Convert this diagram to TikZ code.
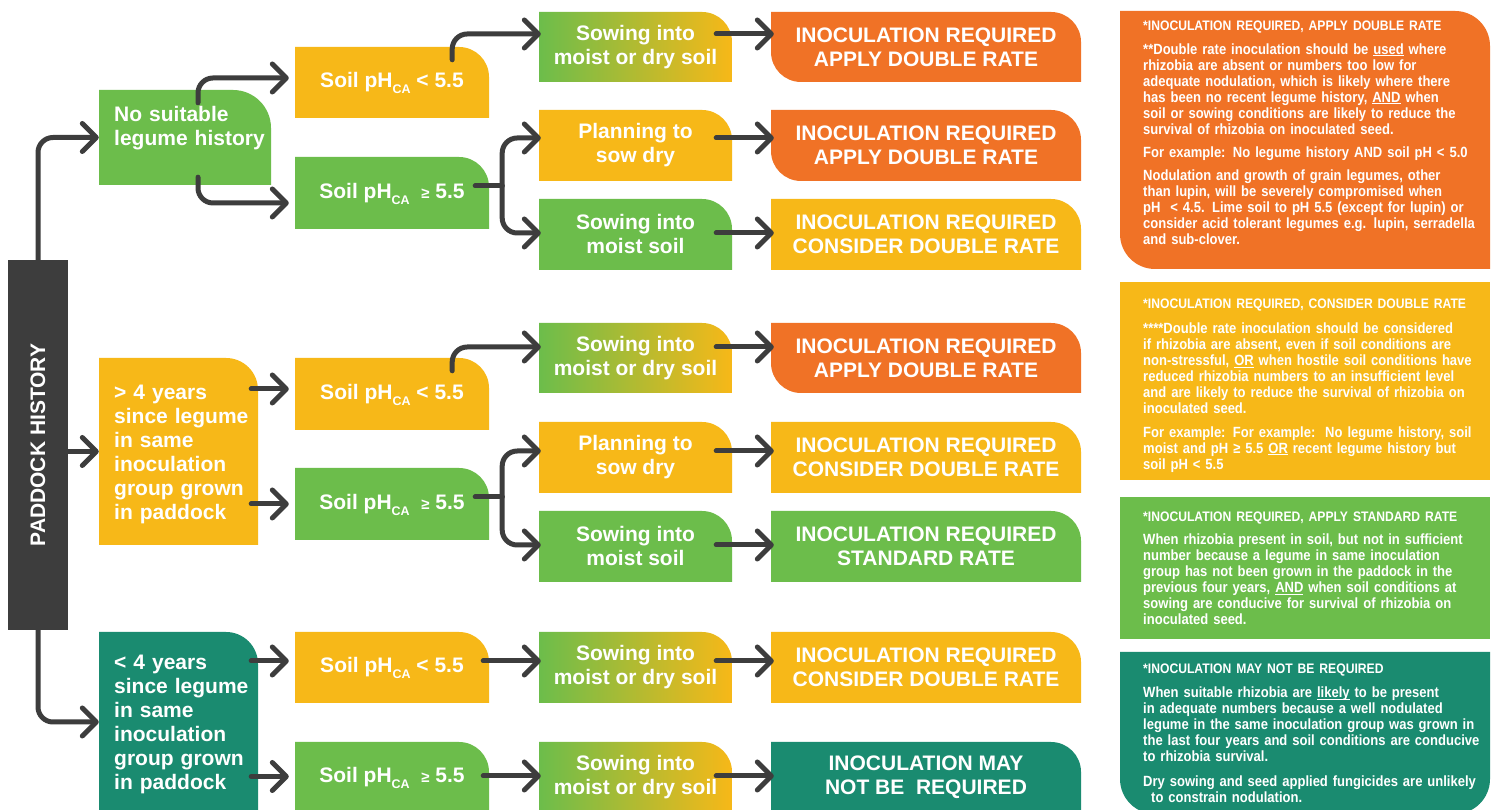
\documentclass[tikz,border=0pt]{standalone}
\usepackage{fontspec}
\usepackage{graphicx}
\setmainfont{Liberation Sans}
\newfontfamily\panelfont{Liberation Sans}[FakeStretch=0.88]
\usetikzlibrary{arrows.meta,calc}
\definecolor{cgreen}{HTML}{6CBD4B}
\definecolor{cyellow}{HTML}{F7B818}
\definecolor{corange}{HTML}{F07226}
\definecolor{cteal}{HTML}{1A8B70}
\definecolor{cdark}{HTML}{3D3D3D}
\newcommand{\phca}{pH\raisebox{-6pt}[0pt][0pt]{\fontsize{12.5}{12.5}\selectfont CA}}
\newcommand{\gesym}{{\fontsize{15}{15}\selectfont ≥}}
\newcommand{\ulx}[1]{\setbox0\hbox{#1}\rlap{\rule[-1.8pt]{\wd0}{1pt}}\box0\relax}
\tikzset{
  trbox/.style 2 args={path picture={\fill[#1]
     (path picture bounding box.south west) -- (path picture bounding box.north west)
     -- ([xshift=-#2]path picture bounding box.north east) arc[start angle=90,end angle=0,radius=#2]
     -- (path picture bounding box.south east) -- cycle;}},
  trblbox/.style 2 args={path picture={\fill[#1]
     (path picture bounding box.north west)
     -- ([xshift=-#2]path picture bounding box.north east) arc[start angle=90,end angle=0,radius=#2]
     -- (path picture bounding box.south east)
     -- ([xshift=#2]path picture bounding box.south west) arc[start angle=270,end angle=180,radius=#2]
     -- cycle;}},
  botbox/.style 2 args={path picture={\fill[#1]
     (path picture bounding box.north west) -- (path picture bounding box.north east)
     -- ([yshift=#2]path picture bounding box.south east) arc[start angle=0,end angle=-90,radius=#2]
     -- ([xshift=#2]path picture bounding box.south west) arc[start angle=270,end angle=180,radius=#2]
     -- cycle;}},
  gradbox/.style={path picture={\shade[left color=cgreen,right color=cyellow]
     (path picture bounding box.south west) -- (path picture bounding box.north west)
     -- ([xshift=-30pt]path picture bounding box.north east) arc[start angle=90,end angle=0,radius=30pt]
     -- (path picture bounding box.south east) -- cycle;}},
  tb/.style={rectangle, inner sep=0pt, text=white, align=center,
     font=\fontsize{21}{24}\selectfont\bfseries},
  lt/.style={inner sep=0pt, text=white, align=left, text width=160pt,
     font=\fontsize{21}{24}\selectfont\bfseries},
  pt/.style={inner sep=0pt, text=white, align=left, text width=350pt,
     font=\panelfont\bfseries\fontsize{14.8}{16}\selectfont},
  lv2/.style={tb, minimum width=194pt, minimum height=71pt},
  lv3/.style={tb, minimum width=193pt, minimum height=71pt},
  res/.style={tb, minimum width=310pt, minimum height=71pt},
  conn/.style={draw=cdark, line width=5pt, line cap=round, line join=round,
     rounded corners=15pt, -{Straight Barb[length=14pt,width=28pt,round]}},
  link/.style={draw=cdark, line width=5pt, line cap=round}
}
\newcommand{\hd}[1]{{\fontsize{13.8}{16}\selectfont #1}}
\begin{document}
\begin{tikzpicture}[x=1pt,y=1pt]
\useasboundingbox (0,0) rectangle (1496,810);
\fill[white] (0,0) rectangle (1496,810);

% paddock
\node[tb, fill=cdark, minimum width=60pt, minimum height=370pt] (P) at (38,365) {\rotatebox{90}{PADDOCK HISTORY}};

% level 1
\node[tb, trbox={cgreen}{38pt}, minimum width=172pt, minimum height=95pt] (H1) at (185,672.5) {};
\node[tb, trbox={cyellow}{32pt}, minimum width=159pt, minimum height=187pt] (H2) at (178.5,358.5) {};
\node[tb, trbox={cteal}{32pt}, minimum width=159pt, minimum height=180pt] (H3) at (178.5,88) {};
\node[lt, anchor=base west] (H1t) at (114,688) {No suitable\\legume history};
\node[lt, anchor=base west] (H2t) at (114,410) {> 4 years\\since legume\\in same\\inoculation\\group grown\\in paddock};
\node[lt, anchor=base west] (H3t) at (114,140) {< 4 years\\since legume\\in same\\inoculation\\group grown\\in paddock};

% level 2
\node[lv2, trbox={cyellow}{30pt}] (A1) at (392,727.5) {Soil \phca\ < 5.5};
\node[lv2, trbox={cgreen}{30pt}, minimum height=72pt] (A2) at (392,617) {Soil \phca\ \ \gesym\ 5.5};
\node[lv2, trbox={cyellow}{30pt}, minimum height=72pt] (B1) at (392,416) {Soil \phca\ < 5.5};
\node[lv2, trbox={cgreen}{30pt}, minimum height=72pt] (B2) at (392,306) {Soil \phca\ \ \gesym\ 5.5};
\node[lv2, trbox={cyellow}{30pt}] (C1) at (392,142.5) {Soil \phca\ < 5.5};
\node[lv2, trbox={cgreen}{30pt}] (C2) at (392,32.5) {Soil \phca\ \ \gesym\ 5.5};

% level 3
\node[lv3, gradbox, minimum height=70pt] (S1) at (635.5,763) {Sowing into\\moist or dry soil};
\node[lv3, trbox={cyellow}{30pt}] (S2) at (635.5,664.5) {Planning to\\sow dry};
\node[lv3, trbox={cgreen}{30pt}] (S3) at (635.5,575.5) {Sowing into\\moist soil};
\node[lv3, gradbox, minimum height=70pt] (S4) at (635.5,452) {Sowing into\\moist or dry soil};
\node[lv3, trbox={cyellow}{30pt}] (S5) at (635.5,352.5) {Planning to\\sow dry};
\node[lv3, trbox={cgreen}{30pt}] (S6) at (635.5,263.5) {Sowing into\\moist soil};
\node[lv3, gradbox] (S7) at (635.5,142.5) {Sowing into\\moist or dry soil};
\node[lv3, gradbox] (S8) at (635.5,32.5) {Sowing into\\moist or dry soil};

% results
\node[res, trblbox={corange}{30pt}, minimum height=70pt] (R1) at (926,763) {INOCULATION REQUIRED\\APPLY DOUBLE RATE};
\node[res, trblbox={corange}{30pt}] (R2) at (926,664.5) {INOCULATION REQUIRED\\APPLY DOUBLE RATE};
\node[res, trbox={cyellow}{30pt}] (R3) at (926,575.5) {INOCULATION REQUIRED\\CONSIDER DOUBLE RATE};
\node[res, trblbox={corange}{30pt}, minimum height=70pt] (R4) at (926,452) {INOCULATION REQUIRED\\APPLY DOUBLE RATE};
\node[res, trbox={cyellow}{30pt}] (R5) at (926,352.5) {INOCULATION REQUIRED\\CONSIDER DOUBLE RATE};
\node[res, trbox={cgreen}{30pt}] (R6) at (926,263.5) {INOCULATION REQUIRED\\STANDARD RATE};
\node[res, trbox={cyellow}{30pt}] (R7) at (926,142.5) {INOCULATION REQUIRED\\CONSIDER DOUBLE RATE};
\node[res, trbox={cteal}{30pt}] (R8) at (926,32.5) {INOCULATION MAY\\NOT BE\ \ REQUIRED};

% row arrow heights
\coordinate (r1) at (0,776);
\coordinate (r2) at (0,672);
\coordinate (r3) at (0,577);
\coordinate (r4) at (0,463);
\coordinate (r5) at (0,359);
\coordinate (r6) at (0,265);
\coordinate (r7) at (0,149);
\coordinate (r8) at (0,34);

% connectors level 0 -> 1
\draw[conn] (P.north) |- (H1.west);
\draw[conn] (P.east |- H2.west) -- (H2.west);
\draw[conn] (P.south) |- (H3.west);

% level 1 -> 2
\draw[conn] ($(H1.north)+(13,-13)$) |- ($(A1.west)+(-6,4.5)$);
\draw[conn] ($(H1.south)+(13,8)$) |- ($(A2.west)+(-6,-10)$);
\draw[conn] ($(H2.east |- B1.west)+(-7,5)$) -- ($(B1.west)+(-6,5)$);
\draw[conn] ($(H2.east |- B2.west)+(-7,0)$) -- ($(B2.west)+(-6,0)$);
\draw[conn] ($(H3.east |- C1.west)+(-7,6.5)$) -- ($(C1.west)+(-6,6.5)$);
\draw[conn] ($(H3.east |- C2.west)+(-7,1)$) -- ($(C2.west)+(-6,1)$);

% level 2 -> 3
\draw[conn] ($(A1.north east)+(-37,-13)$) |- ($(S1.west |- r1)+(2,0)$);
\coordinate (j1) at ($(A2.east)+(13,7)$);
\draw[link] ($(A2.east)+(-14,7)$) -- (j1);
\draw[conn] (j1) |- ($(S2.west |- r2)+(2,0)$);
\draw[conn] (j1) |- ($(S3.west |- r3)+(2,0)$);
\draw[conn] ($(B1.north east)+(-37,-13)$) |- ($(S4.west |- r4)+(2,0)$);
\coordinate (j2) at ($(B2.east)+(13,7)$);
\draw[link] ($(B2.east)+(-14,7)$) -- (j2);
\draw[conn] (j2) |- ($(S5.west |- r5)+(2,0)$);
\draw[conn] (j2) |- ($(S6.west |- r6)+(2,0)$);
\draw[conn] ($(C1.east |- r7)+(-6,0)$) -- ($(S7.west |- r7)+(2,0)$);
\draw[conn] ($(C2.east |- r8)+(-6,0)$) -- ($(S8.west |- r8)+(2,0)$);

% level 3 -> results
\foreach \i in {1,...,8}{
  \draw[conn] ($(S\i.east |- r\i)+(-16,0)$) -- ($(R\i.west |- r\i)+(3,0)$);
}

% right panels
\node[trblbox={corange}{35pt}, inner sep=0pt, minimum width=370pt, minimum height=258pt] (PO) at (1305,670) {};
\node[fill=cyellow, inner sep=0pt, minimum width=370pt, minimum height=198pt] (PY) at (1305,429) {};
\node[fill=cgreen, inner sep=0pt, minimum width=370pt, minimum height=142pt] (PG) at (1305,242) {};
\node[botbox={cteal}{35pt}, inner sep=0pt, minimum width=370pt, minimum height=162pt] (PT) at (1305,77) {};

\node[pt, anchor=base west] (POt) at (1143,779) {\hd{*INOCULATION REQUIRED, APPLY DOUBLE RATE}\\[7.5pt]
**Double rate inoculation should be \ulx{used} where\\
rhizobia are absent or numbers too low for\\
adequate nodulation, which is likely where there\\
has been no recent legume history, \ulx{AND} when\\
soil or sowing conditions are likely to reduce the\\
survival of rhizobia on inoculated seed.\\[7.5pt]
For example: No legume history AND soil pH < 5.0\\[7pt]
Nodulation and growth of grain legumes, other\\
than lupin, will be severely compromised when\\
pH\ \ < 4.5. Lime soil to pH 5.5 (except for lupin) or\\
consider acid tolerant legumes e.g. lupin, serradella\\
and sub-clover.};

\node[pt, anchor=base west] (PYt) at (1143,501) {\hd{*INOCULATION REQUIRED, CONSIDER DOUBLE RATE}\\[9pt]
****Double rate inoculation should be considered\\
if rhizobia are absent, even if soil conditions are\\
non-stressful, \ulx{OR} when hostile soil conditions have\\
reduced rhizobia numbers to an insufficient level\\
and are likely to reduce the survival of rhizobia on\\
inoculated seed.\\[7.5pt]
For example: For example:\ \ No legume history, soil\\
moist and pH ≥ 5.5 \ulx{OR} recent legume history but\\
soil pH < 5.5};

\node[pt, anchor=base west] (PGt) at (1143,288) {\hd{*INOCULATION REQUIRED, APPLY STANDARD RATE}\\[7pt]
When rhizobia present in soil, but not in sufficient\\
number because a legume in same inoculation\\
group has not been grown in the paddock in the\\
previous four years, \ulx{AND} when soil conditions at\\
sowing are conducive for survival of rhizobia on\\
inoculated seed.};

\node[pt, anchor=base west] (PTt) at (1143,136) {\hd{*INOCULATION MAY NOT BE REQUIRED}\\[8pt]
When suitable rhizobia are \ulx{likely} to be present\\
in adequate numbers because a well nodulated\\
legume in the same inoculation group was grown in\\
the last four years and soil conditions are conducive\\
to rhizobia survival.\\[8.5pt]
Dry sowing and seed applied fungicides are unlikely\\
\hspace*{8pt}to constrain nodulation.};
\end{tikzpicture}
\end{document}
